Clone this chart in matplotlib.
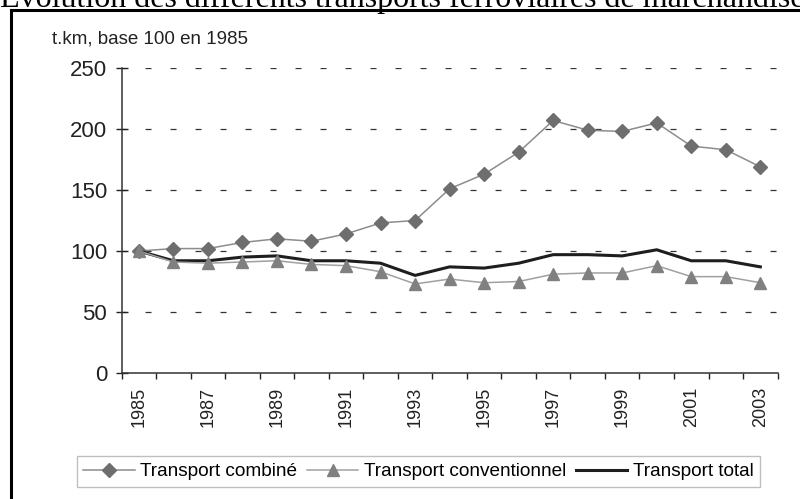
import matplotlib.pyplot as plt
from matplotlib.lines import Line2D

years = list(range(1985, 2004))
combine = [100, 102, 102, 107, 110, 108, 114, 123, 125, 151, 163, 181, 207, 199, 198, 205, 186, 183, 169]
conventionnel = [100, 91, 90, 91, 92, 89, 88, 83, 73, 77, 74, 75, 81, 82, 82, 88, 79, 79, 74]
total = [100, 92, 92, 95, 96, 92, 92, 90, 80, 87, 86, 90, 97, 97, 96, 101, 92, 92, 87]

title = "Évolution des différents transports ferroviaires de marchandises"
ylabel = "t.km, base 100 en 1985"
labels = ["Transport combiné", "Transport conventionnel", "Transport total"]

plt.rcParams['font.family'] = ['Liberation Sans', 'DejaVu Sans']
plt.rcParams['lines.scale_dashes'] = False

fig = plt.figure(figsize=(8, 4.99), dpi=100)
ax = fig.add_axes([0.152, 0.2525, 0.82, 0.6112])

x = list(range(len(years)))

# dashed grid
for v in [50, 100, 150, 200, 250]:
    ax.axhline(v, color="#333333", lw=0.9, linestyle=(1.4, (4.3, 13.7)), zorder=1)

h1, = ax.plot(x, combine, color="#8c8c8c", lw=1.1, marker="D", ms=7.5,
              mfc="#6e6e6e", mec="#6e6e6e", zorder=3)
h3, = ax.plot(x, total, color="#1e1e1e", lw=2.2, zorder=4)
h2, = ax.plot(x, conventionnel, color="#a0a0a0", lw=1.1, marker="^", ms=9,
              mfc="#808080", mec="#808080", zorder=5)

ax.set_xlim(-0.5, len(years) - 0.5)
ax.set_ylim(0, 250)
ax.set_yticks([0, 50, 100, 150, 200, 250])
ax.tick_params(axis="y", direction="inout", length=9, width=1.0,
               labelsize=16, pad=6, colors="#222222")

# tick marks between categories, labels on centers
ax.set_xticks([i - 0.5 for i in range(len(years) + 1)])
ax.set_xticklabels([])
ax.tick_params(axis="x", which="major", direction="out", length=4, width=1.0, color="#222222")
ax.set_xticks(x[::2], minor=True)
ax.set_xticklabels([str(y) for y in years[::2]], minor=True, rotation=90)
ax.tick_params(axis="x", which="minor", length=0, pad=10, labelsize=13, labelcolor="#222222")

for s in ["top", "right"]:
    ax.spines[s].set_visible(False)
for s in ["left", "bottom"]:
    ax.spines[s].set_color("#333333")
    ax.spines[s].set_linewidth(1.1)

fig.text(52 / 800, 1 - 43 / 499, ylabel, fontsize=13.5, color="#222222", va="baseline")

fig.legend([h1, h2, h3], labels, loc="center", bbox_to_anchor=(0.523, 0.055),
           ncol=3, fontsize=13.7, frameon=True, fancybox=False, edgecolor="#b0b0b0",
           handlelength=2.7, handletextpad=0.3, columnspacing=0.5,
           borderpad=0.35, borderaxespad=0)

# cut-off page title and outer frame
fig.text(0, 1 - 6.5 / 499, title, fontsize=23, family="Liberation Serif",
         va="baseline", ha="left", color="black")
fig.add_artist(Line2D([11 / 800, 11 / 800], [-0.1, 1 - 10 / 499], color="black", lw=2.2))
fig.add_artist(Line2D([11 / 800, 1.1], [1 - 10 / 499, 1 - 10 / 499], color="black", lw=2.2))

fig.savefig("out.png", dpi=100)
